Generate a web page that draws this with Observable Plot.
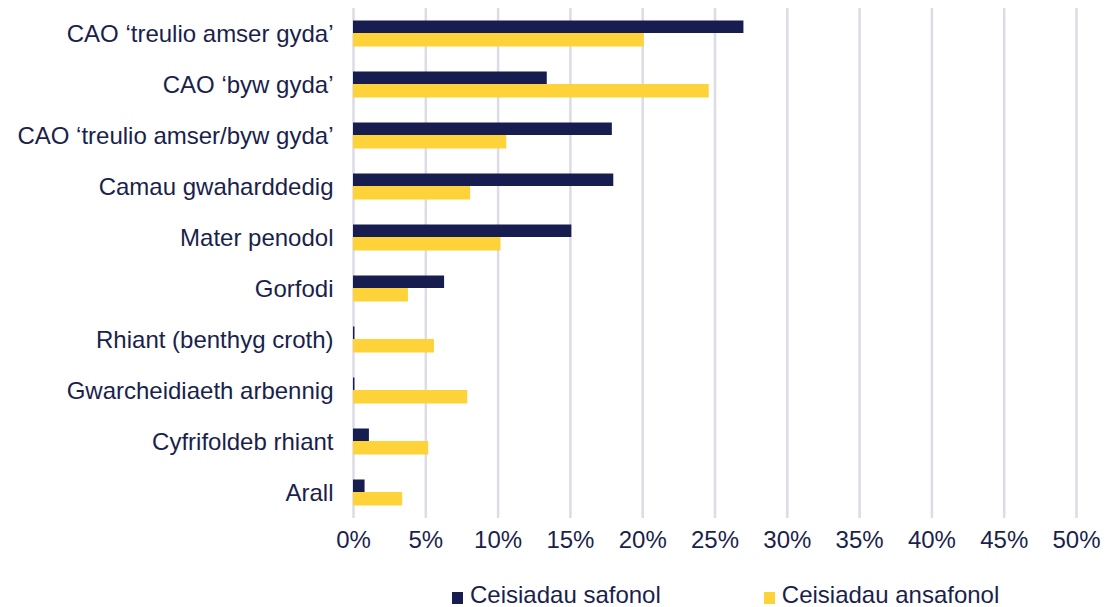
<!DOCTYPE html>
<html>
<head>
<meta charset="utf-8">
<script src="https://cdn.jsdelivr.net/npm/d3@7"></script>
<script src="https://cdn.jsdelivr.net/npm/@observablehq/plot@0.6"></script>
<style>
  html, body { margin: 0; padding: 0; background: #fff; }
  body { width: 1114px; height: 607px; overflow: hidden; font-family: "Liberation Sans", Arial, sans-serif; color: #1b1f4d; }
  #legend { display: flex; align-items: flex-end; height: 49px; box-sizing: border-box; padding-left: 452px; font-size: 24px; line-height: 1; }
  .item { display: flex; align-items: flex-end; }
  .item + .item { margin-left: 103px; }
  .sw { width: 11px; height: 12px; margin-right: 7px; margin-bottom: 3px; }
</style>
</head>
<body>
<div id="chart"></div>
<div id="legend"></div>
<script>
const categories = [
  "CAO ‘treulio amser gyda’",
  "CAO ‘byw gyda’",
  "CAO ‘treulio amser/byw gyda’",
  "Camau gwaharddedig",
  "Mater penodol",
  "Gorfodi",
  "Rhiant (benthyg croth)",
  "Gwarcheidiaeth arbennig",
  "Cyfrifoldeb rhiant",
  "Arall"
];
const seriesNames = ["Ceisiadau safonol", "Ceisiadau ansafonol"];
const standard    = [27.0, 13.4, 17.9, 18.0, 15.1, 6.3, 0.1, 0.1, 1.1, 0.8];
const nonStandard = [20.1, 24.6, 10.6, 8.1, 10.2, 3.8, 5.6, 7.9, 5.2, 3.4];
const xTicks = [0, 5, 10, 15, 20, 25, 30, 35, 40, 45, 50];
const colors = ["#171d4f", "#fed339"];

const rowsA = categories.map((c, i) => ({category: c, value: standard[i]}));
const rowsB = categories.map((c, i) => ({category: c, value: nonStandard[i]}));

const textColor = "#1b1f4d";

const chart = Plot.plot({
  width: 1114,
  height: 558,
  marginLeft: 353,
  marginRight: 38,
  marginTop: 8,
  marginBottom: 40,
  style: {fontFamily: '"Liberation Sans", Arial, sans-serif', fontSize: "24px", color: textColor, background: "#fff"},
  x: {domain: [0, 50]},
  y: {domain: categories, padding: 0},
  marks: [
    Plot.gridX(xTicks, {stroke: "#dcdbe6", strokeWidth: 2.5, strokeOpacity: 1}),
    Plot.barX(rowsA, {x: "value", y: "category", fill: colors[0], insetTop: 12.5, insetBottom: 26}),
    Plot.barX(rowsB, {x: "value", y: "category", fill: colors[1], insetTop: 25, insetBottom: 12.5}),
    Plot.axisX(xTicks, {tickSize: 0, tickPadding: 12, tickFormat: d => d + "%", fontSize: 24, fill: textColor, label: null}),
    Plot.axisY({tickSize: 0, tickPadding: 20, fontSize: 24, fill: textColor, label: null})
  ]
});
document.getElementById("chart").appendChild(chart);

const legend = document.getElementById("legend");
seriesNames.forEach((name, i) => {
  const item = document.createElement("div");
  item.className = "item";
  const sw = document.createElement("span");
  sw.className = "sw";
  sw.style.background = colors[i];
  const label = document.createElement("span");
  label.textContent = name;
  item.appendChild(sw);
  item.appendChild(label);
  legend.appendChild(item);
});
</script>
</body>
</html>
